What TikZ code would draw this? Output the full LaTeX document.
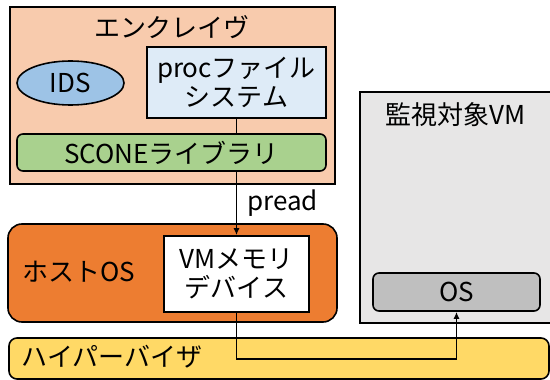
\documentclass[tikz,border=0pt]{standalone}
\usepackage{fontspec}
\newfontfamily\jpfont{Noto Sans CJK JP}
\usetikzlibrary{shapes.geometric,arrows.meta}
\begin{document}
\begin{tikzpicture}[x=1pt,y=-1pt,
    >={Latex[length=7pt,width=6pt]},
    box/.style={draw,line width=1.6pt,inner sep=0pt,align=center,
      font={\jpfont\fontsize{26}{29}\selectfont}},
    lbl/.style={font={\jpfont\fontsize{26}{29}\selectfont}}]
  \useasboundingbox (0,0) rectangle (550,380);
  \clip (0,0) rectangle (550,380);
  % enclave
  \node[box,fill={rgb,255:red,248;green,203;blue,173},minimum width=325pt,minimum height=177pt]
    (enclave) at (172.5,95.5) {};
  \node[lbl] (enclavename) at (172,27) {エンクレイヴ};
  \node[box,ellipse,fill={rgb,255:red,157;green,195;blue,230},minimum width=107pt,minimum height=44pt]
    (ids) at (70.5,83) {IDS};
  \node[box,fill={rgb,255:red,222;green,235;blue,247},minimum width=179pt,minimum height=71pt]
    (procfs) at (236.5,82.5) {procファイル\\システム};
  \node[box,rounded corners=6pt,fill={rgb,255:red,169;green,209;blue,142},minimum width=309pt,minimum height=37pt]
    (scone) at (171.5,152.5) {SCONEライブラリ};
  % host
  \node[box,rounded corners=14pt,fill={rgb,255:red,237;green,125;blue,49},minimum width=329pt,minimum height=98pt]
    (hostos) at (172.5,273) {};
  \node[lbl] (hostosname) at (79,272) {ホストOS};
  \node[box,fill=white,minimum width=145pt,minimum height=76pt]
    (vmmem) at (236.5,274) {VMメモリ\\デバイス};
  % hypervisor
  \node[box,rounded corners=8pt,fill={rgb,255:red,255;green,217;blue,102},minimum width=540pt,minimum height=41pt]
    (hyper) at (279,358.5) {};
  \node[lbl] (hypername) at (112,357) {ハイパーバイザ};
  % monitored VM
  \node[box,fill={rgb,255:red,231;green,230;blue,230},minimum width=196pt,minimum height=231pt]
    (vm) at (458,207.5) {};
  \node[lbl] (vmname) at (456,115) {監視対象VM};
  \node[box,rounded corners=6pt,fill={rgb,255:red,191;green,191;blue,191},minimum width=167pt,minimum height=38pt]
    (os) at (456.5,292) {OS};
  % connectors
  \draw[line width=1.5pt] (procfs.south) -- (procfs.south |- scone.north);
  \draw[->,line width=1.5pt] (vmmem.north |- scone.south) -- (vmmem.north)
    node[lbl,midway,right,inner sep=10pt] (preadlbl) {pread};
  \draw[->,line width=1.5pt] (vmmem.south) -- ++(0,46) -| (os.south);
\end{tikzpicture}
\end{document}
